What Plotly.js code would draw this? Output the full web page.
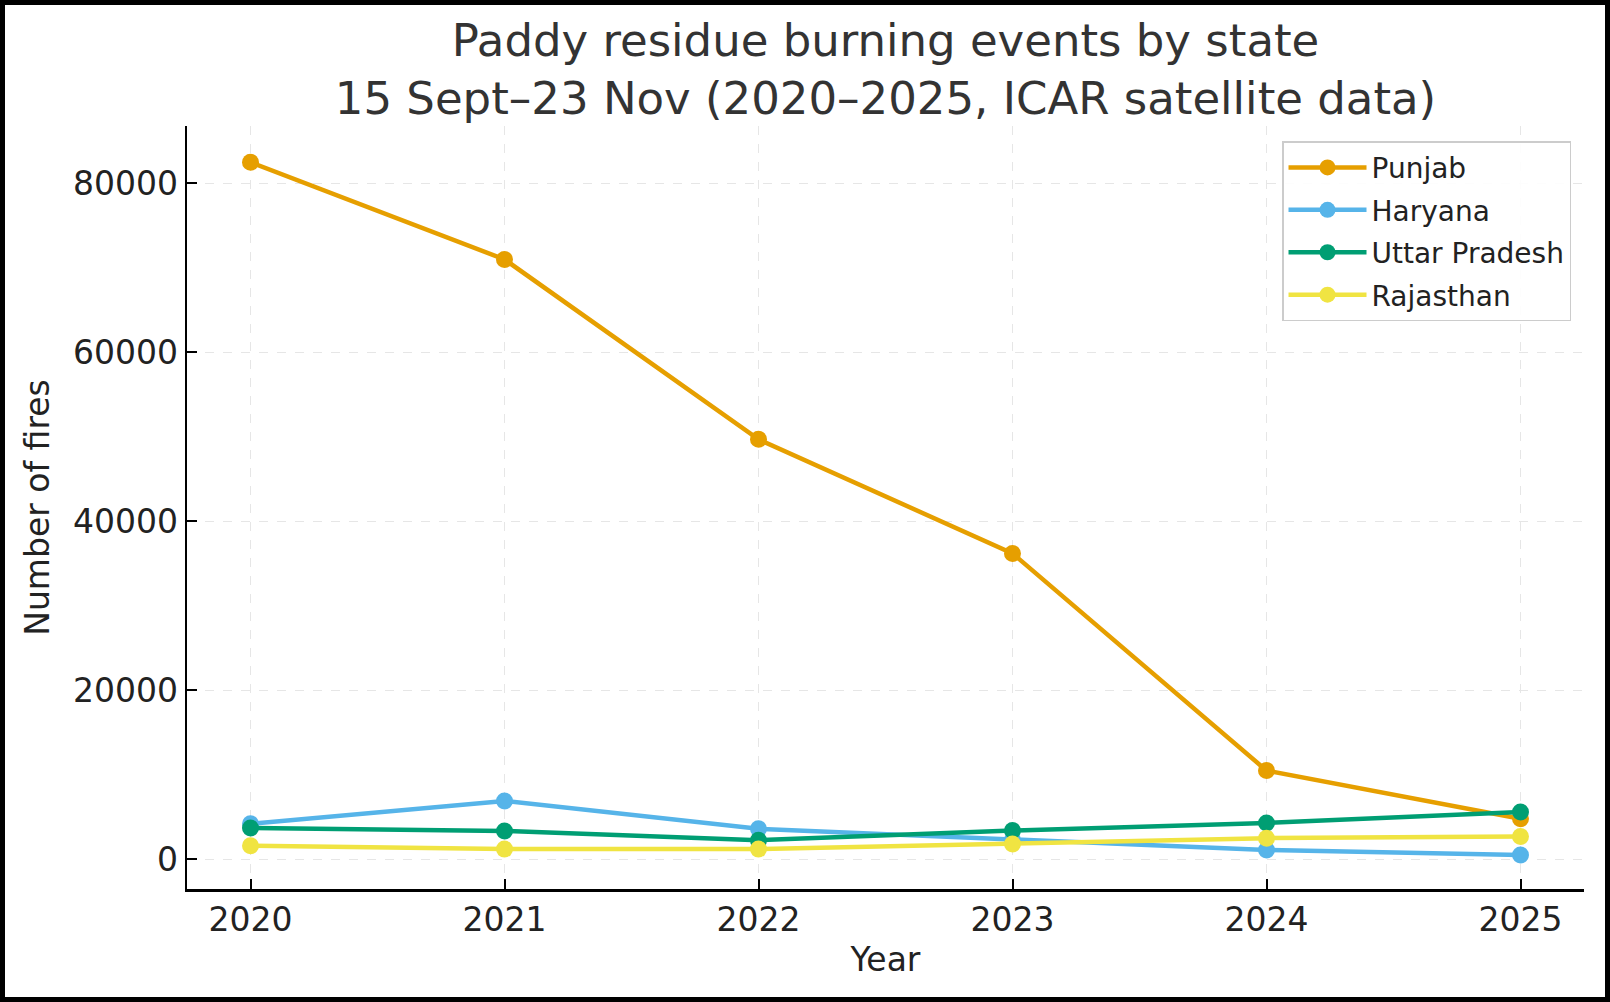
<!DOCTYPE html>
<html>
<head>
<meta charset="utf-8">
<script src="https://cdn.plot.ly/plotly-3.0.1.min.js"></script>
<style>
  html, body { margin: 0; padding: 0; background: #ffffff; }
  #frame { position: absolute; left: 0; top: 0; width: 1610px; height: 1002px; box-sizing: border-box; border: 5px solid #000; background: #fff; }
  #chart { width: 1600px; height: 992px; }
</style>
</head>
<body>
<div id="frame"><div id="chart"></div></div>
<script>
const years = [2020, 2021, 2022, 2023, 2024, 2025];
const punjab = [82500, 71000, 49700, 36200, 10500, 4800];
const haryana = [4200, 6900, 3600, 2300, 1100, 500];
const uttarPradesh = [3700, 3350, 2250, 3400, 4300, 5600];
const rajasthan = [1600, 1200, 1200, 1800, 2500, 2700];
const seriesNames = ['Punjab', 'Haryana', 'Uttar Pradesh', 'Rajasthan'];
const seriesColors = ['#E69F00', '#56B4E9', '#009E73', '#F0E442'];
const yTickVals = [0, 20000, 40000, 60000, 80000];
const yTickText = ['0', '20000', '40000', '60000', '80000'];

const seriesValues = [punjab, haryana, uttarPradesh, rajasthan];
const traces = seriesValues.map((vals, i) => ({
  x: years,
  y: vals,
  name: seriesNames[i],
  legendgroup: 'g' + i,
  type: 'scatter',
  mode: 'lines+markers',
  line: { color: seriesColors[i], width: 4.5 },
  marker: { color: seriesColors[i], size: 17 }
}));

const FONT = 'DejaVu Sans, Verdana, sans-serif';
const layout = {
  width: 1600,
  height: 992,
  margin: { l: 182, r: 21, t: 121, b: 108 },
  paper_bgcolor: '#ffffff',
  plot_bgcolor: '#ffffff',
  font: { family: FONT, color: '#222222', size: 33 },
  title: {
    text: 'Paddy residue burning events by state<br>15 Sept–23 Nov (2020–2025, ICAR satellite data)',
    font: { family: FONT, size: 45, color: '#333333' },
    x: 0.5, xref: 'paper', xanchor: 'center',
    y: 0.949, yref: 'container', yanchor: 'top'
  },
  xaxis: {
    range: [2019.75, 2025.25],
    tickvals: years,
    ticktext: years.map(String),
    ticks: 'inside', ticklen: 10, tickwidth: 2, tickcolor: '#000',
    showline: true, linecolor: '#000', linewidth: 2.5,
    showgrid: true, gridcolor: '#e6e6e6', gridwidth: 1.5, griddash: 'dash',
    zeroline: false,
    tickfont: { family: FONT, size: 33, color: '#222222' },
    title: { text: 'Year', font: { family: FONT, size: 33, color: '#222222' }, standoff: 10 },
    automargin: false
  },
  yaxis: {
    range: [-3520, 86790],
    tickvals: yTickVals,
    ticktext: yTickText,
    ticks: 'inside', ticklen: 10, tickwidth: 2, tickcolor: '#000',
    showline: true, linecolor: '#000', linewidth: 2.5,
    showgrid: true, gridcolor: '#e6e6e6', gridwidth: 1.5, griddash: 'dash',
    zeroline: false,
    tickfont: { family: FONT, size: 33, color: '#222222' },
    title: { text: 'Number of fires', font: { family: FONT, size: 33, color: '#222222' }, standoff: 14 },
    automargin: false
  },
  showlegend: true,
  legend: {
    x: 0.9907, xref: 'paper', xanchor: 'right',
    y: 0.98, yref: 'paper', yanchor: 'top',
    bgcolor: 'rgba(255,255,255,0.9)',
    bordercolor: '#cccccc', borderwidth: 1.5,
    font: { family: FONT, size: 28, color: '#222222' },
    traceorder: 'grouped',
    tracegroupgap: 3,
    itemwidth: 78
  }
};

Plotly.newPlot('chart', traces, layout, { displayModeBar: false, staticPlot: true });
</script>
</body>
</html>
